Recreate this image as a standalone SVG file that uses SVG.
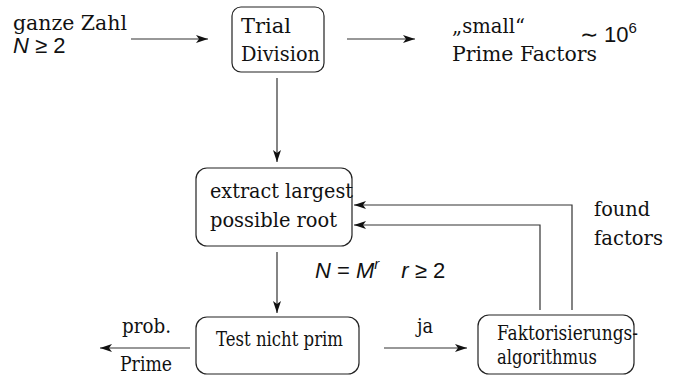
<svg xmlns="http://www.w3.org/2000/svg" width="673" height="379" viewBox="0 0 673 379">
<style>
.t{font-family:"DejaVu Serif","Liberation Serif",serif;font-size:20px;fill:#111}
.m{font-family:"Liberation Sans",Arial,sans-serif;font-size:22px;fill:#111}
.i{font-style:italic}
.box{fill:none;stroke:#222;stroke-width:1.2}
.ln{fill:none;stroke:#333;stroke-width:1.2}
</style>
<defs>
<marker id="ah" viewBox="0 0 12 8" refX="12" refY="4" markerWidth="12" markerHeight="8" markerUnits="userSpaceOnUse" orient="auto">
<path d="M0,0 L12,4 L0,8 L3,4 Z" fill="#111"/>
</marker>
</defs>
<rect width="673" height="379" fill="#fff"/>
<g id="input">
<text class="t" x="13" y="30" textLength="114" lengthAdjust="spacingAndGlyphs">ganze Zahl</text>
<text class="m" x="13" y="53"><tspan class="i">N</tspan> ≥ 2</text>
</g>
<g id="trial">
<rect class="box" x="232" y="7" width="92" height="65" rx="9"/>
<text class="t" x="241" y="33" textLength="50" lengthAdjust="spacingAndGlyphs">Trial</text>
<text class="t" x="241" y="61" textLength="79" lengthAdjust="spacingAndGlyphs">Division</text>
</g>
<g id="small">
<text class="t" x="452" y="33" textLength="73" lengthAdjust="spacingAndGlyphs">„small“</text>
<text class="t" x="452" y="61" textLength="145" lengthAdjust="spacingAndGlyphs">Prime Factors</text>
<text class="m" x="580" y="42">∼ 10<tspan font-size="15" dy="-9">6</tspan></text>
</g>
<g id="extract">
<rect class="box" x="196" y="168" width="156" height="78" rx="11"/>
<text class="t" x="210" y="198" textLength="143" lengthAdjust="spacingAndGlyphs">extract largest</text>
<text class="t" x="210" y="227" textLength="127" lengthAdjust="spacingAndGlyphs">possible root</text>
</g>
<g id="cond">
<text class="m" x="315" y="278"><tspan class="i">N</tspan> = <tspan class="i">M</tspan><tspan class="i" font-size="15" dy="-9">r</tspan><tspan dy="9" dx="22" class="i">r</tspan> ≥ 2</text>
</g>
<g id="test">
<rect class="box" x="196" y="317" width="163" height="57" rx="11"/>
<text class="t" x="216" y="346" textLength="127" lengthAdjust="spacingAndGlyphs">Test nicht prim</text>
</g>
<g id="faktor">
<rect class="box" x="478" y="315" width="156" height="59" rx="11"/>
<text class="t" x="497" y="340" textLength="141" lengthAdjust="spacingAndGlyphs">Faktorisierungs-</text>
<text class="t" x="497" y="364" textLength="100" lengthAdjust="spacingAndGlyphs">algorithmus</text>
</g>
<g id="labels">
<text class="t" x="122" y="333" textLength="49" lengthAdjust="spacingAndGlyphs">prob.</text>
<text class="t" x="120" y="371" textLength="52" lengthAdjust="spacingAndGlyphs">Prime</text>
<text class="t" x="417" y="333" textLength="16" lengthAdjust="spacingAndGlyphs">ja</text>
<text class="t" x="594" y="216" textLength="56" lengthAdjust="spacingAndGlyphs">found</text>
<text class="t" x="594" y="245" textLength="69" lengthAdjust="spacingAndGlyphs">factors</text>
</g>
<g id="connectors">
<line class="ln" x1="131" y1="39" x2="208" y2="39" marker-end="url(#ah)"/>
<line class="ln" x1="347" y1="39" x2="415" y2="39" marker-end="url(#ah)"/>
<line class="ln" x1="277" y1="78" x2="277" y2="162" marker-end="url(#ah)"/>
<line class="ln" x1="277" y1="252" x2="277" y2="313" marker-end="url(#ah)"/>
<line class="ln" x1="384" y1="348" x2="467" y2="348" marker-end="url(#ah)"/>
<line class="ln" x1="190" y1="348" x2="100" y2="348" marker-end="url(#ah)"/>
<polyline class="ln" points="540,310 540,225 354,225" marker-end="url(#ah)"/>
<polyline class="ln" points="572,310 572,205 354,205" marker-end="url(#ah)"/>
</g>
</svg>
